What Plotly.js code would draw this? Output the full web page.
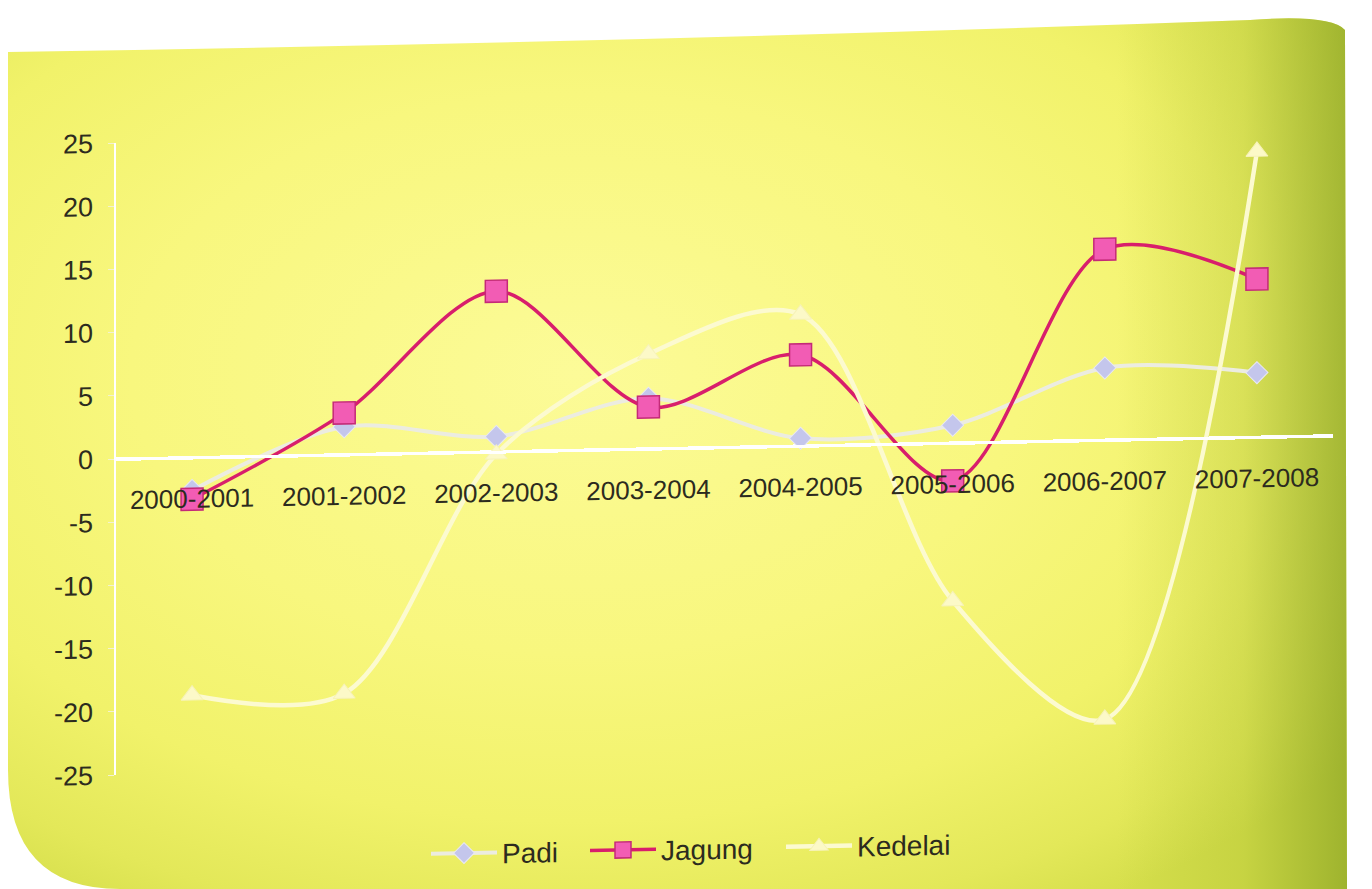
<!DOCTYPE html>
<html>
<head>
<meta charset="utf-8">
<script src="https://cdn.plot.ly/plotly-3.0.1.min.js"></script>
<style>
  html, body { margin:0; padding:0; background:#ffffff; width:1372px; height:889px; overflow:hidden; }
  #panel {
    position:absolute; left:0; top:0; width:1372px; height:889px;
    clip-path: path('M8 52 Q 650 42 1250 20 Q 1330 14 1345 30 L 1347 889 L 120 889 Q 8 889 8 770 Z');
    background:
      radial-gradient(ellipse 72% 70% at 42% 42%, #fcfb98 0%, #f8f77e 45%, #f1f26a 72%, #e3e859 90%, #d6df4c 100%);
  }
  #panel::after {
    content:''; position:absolute; right:25px; top:0; width:230px; height:889px;
    background: linear-gradient(90deg, rgba(160,180,40,0) 0%, rgba(170,190,48,0.35) 55%, rgba(140,165,36,0.75) 100%);
  }
  #chart { position:absolute; left:0; top:0; width:1372px; height:889px;
           transform: skewY(-1.1deg); transform-origin: 116px 459px; }
</style>
</head>
<body>
<div id="panel"></div>
<div id="chart"></div>
<script>
const categories = ['2000-2001','2001-2002','2002-2003','2003-2004','2004-2005','2005-2006','2006-2007','2007-2008'];
const padi    = [-2.6, 2.2, 1.2, 4.0, 0.6, 1.4, 5.7, 5.1];
const jagung  = [-3.3, 3.3, 12.7, 3.3, 7.2, -3.0, 15.1, 12.5];
const kedelai = [-18.8, -18.9, -0.2, 7.5, 10.4, -12.5, -22.1, 22.6];
const yTicks  = [25, 20, 15, 10, 5, 0, -5, -10, -15, -20, -25];

const font = {family:'"Liberation Sans", Arial, sans-serif', size:26, color:'#2c2b1e'};
const yfont = {family:'"Liberation Sans", Arial, sans-serif', size:27, color:'#2c2b1e'};
const lfont = {family:'"Liberation Sans", Arial, sans-serif', size:28, color:'#2c2b1e'};

const traces = [
  { name:'Padi', legend:'legend', x:categories, y:padi, type:'scatter', mode:'lines+markers',
    line:{color:'#ecece0', width:4, shape:'spline', smoothing:0.9},
    marker:{symbol:'diamond', size:17, color:'#c4c6ec', line:{color:'#e8e8f4', width:1}} },
  { name:'Jagung', legend:'legend2', x:categories, y:jagung, type:'scatter', mode:'lines+markers',
    line:{color:'#d81e6c', width:3.5, shape:'spline', smoothing:0.9},
    marker:{symbol:'square', size:22, color:'#f25cb4', line:{color:'#c42a78', width:1.5}} },
  { name:'Kedelai', legend:'legend3', x:categories, y:kedelai, type:'scatter', mode:'lines+markers',
    line:{color:'#fcfad0', width:4.5, shape:'spline', smoothing:0.9},
    marker:{symbol:'triangle-up', size:19, color:'#fcf9c8', line:{color:'#f6f2b8', width:1}} }
];

function leg(px) {
  return {xref:'container', yref:'container', x:px/1372, xanchor:'left',
          y:1 - 860/889, yanchor:'middle', font:lfont, bgcolor:'rgba(0,0,0,0)',
          borderwidth:0, itemwidth:66, orientation:'h'};
}

const layout = {
  width:1372, height:889,
  paper_bgcolor:'rgba(0,0,0,0)', plot_bgcolor:'rgba(0,0,0,0)',
  margin:{l:116, r:39, t:143, b:114},
  font:font,
  showlegend:true,
  legend:leg(426),
  legend2:leg(585),
  legend3:leg(781),
  xaxis:{type:'category', range:[-0.5, 7.5], anchor:'free', position:0.5,
         showline:true, linecolor:'#ffffff', linewidth:3, showgrid:false, zeroline:false,
         ticks:'', tickfont:font, ticklabelstandoff:17, fixedrange:true},
  yaxis:{range:[-25, 25], tickmode:'array', tickvals:yTicks, ticktext:yTicks.map(String),
         showline:true, linecolor:'#ffffff', linewidth:2.5, showgrid:false,
         zeroline:true, zerolinecolor:'#ffffff', zerolinewidth:3,
         ticks:'outside', ticklen:6, tickcolor:'#f4f2d0', tickwidth:1,
         tickfont:yfont, ticklabelstandoff:9, fixedrange:true}
};

Plotly.newPlot('chart', traces, layout, {displayModeBar:false, staticPlot:true});
</script>
</body>
</html>
